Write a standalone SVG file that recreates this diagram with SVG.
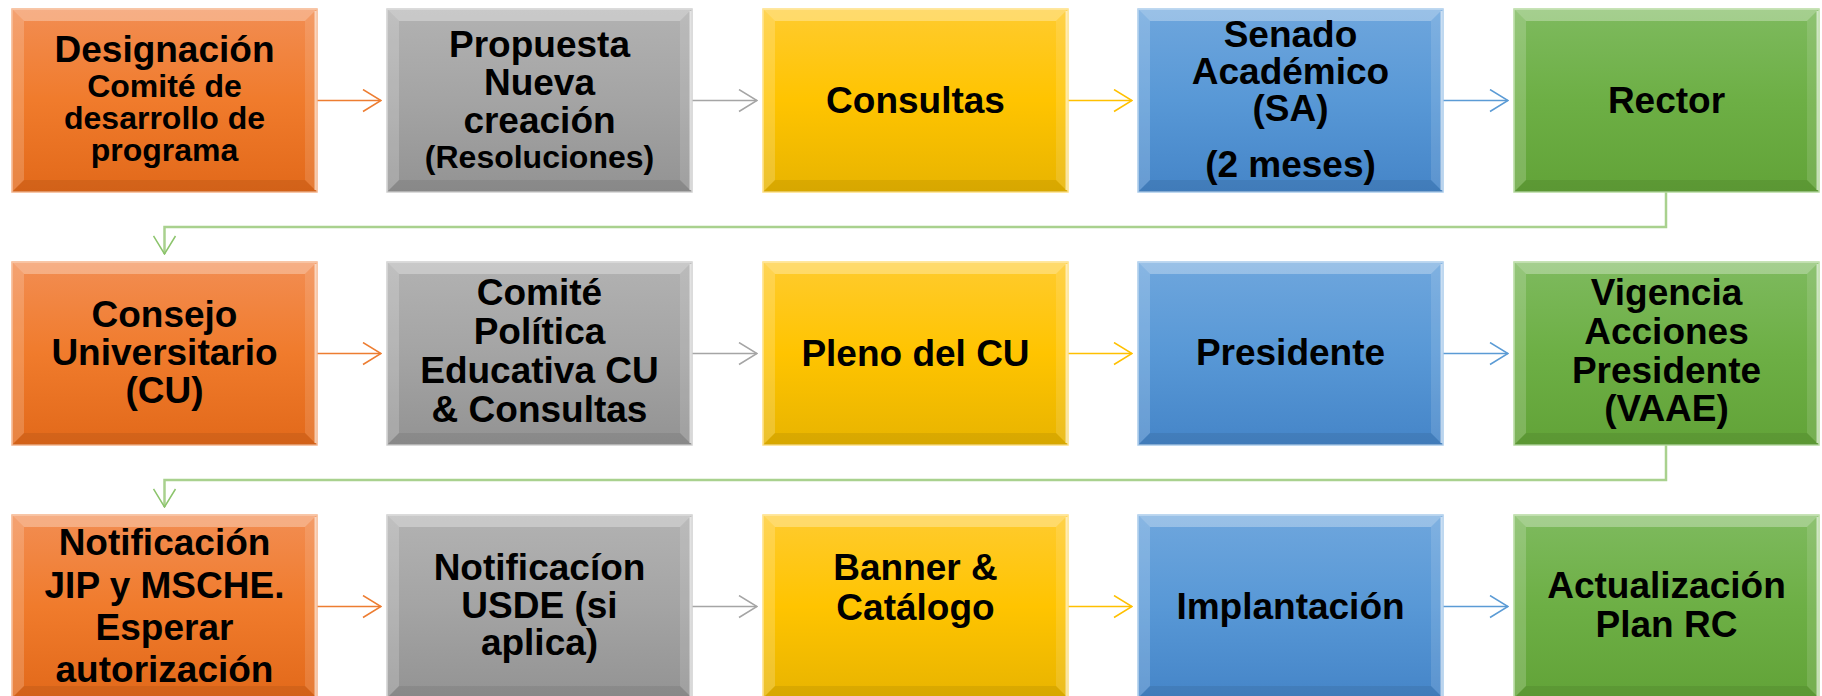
<svg xmlns="http://www.w3.org/2000/svg" xmlns:xlink="http://www.w3.org/1999/xlink" width="1822" height="696" viewBox="0 0 1822 696">
<style>
  text { font-family: "Liberation Sans", Arial, sans-serif; font-weight: bold; fill: #000; text-anchor: middle; }
  .t37 { font-size: 37px; }
  .t32 { font-size: 32px; }
  .orange { fill: url(#gOrange); stroke: #F6B48A; stroke-width: 1.5; }
  .gray { fill: url(#gGray); stroke: #D0D0D0; stroke-width: 1.5; }
  .yellow { fill: url(#gYellow); stroke: #FFE080; stroke-width: 1.5; }
  .blue { fill: url(#gBlue); stroke: #A9CBEC; stroke-width: 1.5; }
  .green { fill: url(#gGreen); stroke: #B5DA9E; stroke-width: 1.5; }
  .conn { fill: none; stroke-width: 1.5; }
  .c-or { stroke: #ED7D31; }
  .c-gr { stroke: #A5A5A5; }
  .c-ye { stroke: #FFC000; }
  .c-bl { stroke: #5B9BD5; }
  .c-gn { stroke: #A9D18E; stroke-width: 2.5; }
</style>
<defs>
  <linearGradient id="gOrange" x1="0" y1="0" x2="0" y2="1"><stop offset="0" stop-color="#F28D52"/><stop offset="0.5" stop-color="#F07B2C"/><stop offset="1" stop-color="#E2691A"/></linearGradient>
  <linearGradient id="gGray" x1="0" y1="0" x2="0" y2="1"><stop offset="0" stop-color="#B2B2B2"/><stop offset="0.5" stop-color="#A4A4A4"/><stop offset="1" stop-color="#939393"/></linearGradient>
  <linearGradient id="gYellow" x1="0" y1="0" x2="0" y2="1"><stop offset="0" stop-color="#FFCB2E"/><stop offset="0.5" stop-color="#FFC400"/><stop offset="1" stop-color="#E8B400"/></linearGradient>
  <linearGradient id="gBlue" x1="0" y1="0" x2="0" y2="1"><stop offset="0" stop-color="#6EA6DD"/><stop offset="0.5" stop-color="#5898D6"/><stop offset="1" stop-color="#4585C8"/></linearGradient>
  <linearGradient id="gGreen" x1="0" y1="0" x2="0" y2="1"><stop offset="0" stop-color="#7EBA5E"/><stop offset="0.5" stop-color="#6DAF45"/><stop offset="1" stop-color="#62A338"/></linearGradient>
  <g id="bevel">
    <polygon points="0,0 305,0 293,12 12,12" fill="#FFFFFF" fill-opacity="0.3"/>
    <polygon points="0,0 12,12 12,171 0,183" fill="#FFFFFF" fill-opacity="0.18"/>
    <polygon points="305,0 305,183 293,171 293,12" fill="#FFFFFF" fill-opacity="0.12"/>
    <polygon points="0,183 12,171 293,171 305,183" fill="#000000" fill-opacity="0.07"/>
    <line x1="303.5" y1="2" x2="303.5" y2="181" stroke="#FFFFFF" stroke-opacity="0.6" stroke-width="2"/>
  </g>
  <marker id="aOr" markerUnits="userSpaceOnUse" viewBox="0 0 20 24" markerWidth="20" markerHeight="24" refX="19" refY="12" orient="auto"><path d="M1,1 L19,12 L1,23" fill="none" stroke="#ED7D31" stroke-width="1.5"/></marker>
  <marker id="aGr" markerUnits="userSpaceOnUse" viewBox="0 0 20 24" markerWidth="20" markerHeight="24" refX="19" refY="12" orient="auto"><path d="M1,1 L19,12 L1,23" fill="none" stroke="#A5A5A5" stroke-width="1.5"/></marker>
  <marker id="aYe" markerUnits="userSpaceOnUse" viewBox="0 0 20 24" markerWidth="20" markerHeight="24" refX="19" refY="12" orient="auto"><path d="M1,1 L19,12 L1,23" fill="none" stroke="#FFC000" stroke-width="1.5"/></marker>
  <marker id="aBl" markerUnits="userSpaceOnUse" viewBox="0 0 20 24" markerWidth="20" markerHeight="24" refX="19" refY="12" orient="auto"><path d="M1,1 L19,12 L1,23" fill="none" stroke="#5B9BD5" stroke-width="1.5"/></marker>
  <marker id="aGn" markerUnits="userSpaceOnUse" viewBox="0 0 20 24" markerWidth="20" markerHeight="24" refX="19" refY="12" orient="auto"><path d="M1,1 L19,12 L1,23" fill="none" stroke="#8CC46C" stroke-width="1.5"/></marker>
</defs>
<rect width="1822" height="696" fill="#FFFFFF"/>

<g id="connectors">
  <line class="conn c-or" x1="317" y1="100.5" x2="381" y2="100.5" marker-end="url(#aOr)"/>
  <line class="conn c-gr" x1="692" y1="100.5" x2="757" y2="100.5" marker-end="url(#aGr)"/>
  <line class="conn c-ye" x1="1068" y1="100.5" x2="1132" y2="100.5" marker-end="url(#aYe)"/>
  <line class="conn c-bl" x1="1443" y1="100.5" x2="1508" y2="100.5" marker-end="url(#aBl)"/>
  <path class="conn c-gn" d="M1666,192 V227 H164.5 V254" marker-end="url(#aGn)"/>

  <line class="conn c-or" x1="317" y1="353.5" x2="381" y2="353.5" marker-end="url(#aOr)"/>
  <line class="conn c-gr" x1="692" y1="353.5" x2="757" y2="353.5" marker-end="url(#aGr)"/>
  <line class="conn c-ye" x1="1068" y1="353.5" x2="1132" y2="353.5" marker-end="url(#aYe)"/>
  <line class="conn c-bl" x1="1443" y1="353.5" x2="1508" y2="353.5" marker-end="url(#aBl)"/>
  <path class="conn c-gn" d="M1666,445 V480 H164.5 V507" marker-end="url(#aGn)"/>

  <line class="conn c-or" x1="317" y1="606.5" x2="381" y2="606.5" marker-end="url(#aOr)"/>
  <line class="conn c-gr" x1="692" y1="606.5" x2="757" y2="606.5" marker-end="url(#aGr)"/>
  <line class="conn c-ye" x1="1068" y1="606.5" x2="1132" y2="606.5" marker-end="url(#aYe)"/>
  <line class="conn c-bl" x1="1443" y1="606.5" x2="1508" y2="606.5" marker-end="url(#aBl)"/>
</g>

<!-- Row 1 -->
<g id="n-designacion" transform="translate(12,9)">
  <rect class="orange" width="305" height="183"/><use href="#bevel"/>
  <text class="t37" x="152.5" y="53">Designación</text>
  <text class="t32" x="152.5" y="88">Comité de</text>
  <text class="t32" x="152.5" y="120">desarrollo de</text>
  <text class="t32" x="152.5" y="152">programa</text>
</g>
<g id="n-propuesta" transform="translate(387,9)">
  <rect class="gray" width="305" height="183"/><use href="#bevel"/>
  <text class="t37" x="152.5" y="48">Propuesta</text>
  <text class="t37" x="152.5" y="86">Nueva</text>
  <text class="t37" x="152.5" y="124">creación</text>
  <text class="t32" x="152.5" y="159">(Resoluciones)</text>
</g>
<g id="n-consultas" transform="translate(763,9)">
  <rect class="yellow" width="305" height="183"/><use href="#bevel"/>
  <text class="t37" x="152.5" y="104">Consultas</text>
</g>
<g id="n-senado" transform="translate(1138,9)">
  <rect class="blue" width="305" height="183"/><use href="#bevel"/>
  <text class="t37" x="152.5" y="38">Senado</text>
  <text class="t37" x="152.5" y="75">Académico</text>
  <text class="t37" x="152.5" y="112">(SA)</text>
  <text class="t37" x="152.5" y="168">(2 meses)</text>
</g>
<g id="n-rector" transform="translate(1514,9)">
  <rect class="green" width="305" height="183"/><use href="#bevel"/>
  <text class="t37" x="152.5" y="104">Rector</text>
</g>

<!-- Row 2 -->
<g id="n-consejo" transform="translate(12,262)">
  <rect class="orange" width="305" height="183"/><use href="#bevel"/>
  <text class="t37" x="152.5" y="65">Consejo</text>
  <text class="t37" x="152.5" y="103">Universitario</text>
  <text class="t37" x="152.5" y="141">(CU)</text>
</g>
<g id="n-comite" transform="translate(387,262)">
  <rect class="gray" width="305" height="183"/><use href="#bevel"/>
  <text class="t37" x="152.5" y="43">Comité</text>
  <text class="t37" x="152.5" y="82">Política</text>
  <text class="t37" x="152.5" y="121">Educativa CU</text>
  <text class="t37" x="152.5" y="160">&amp; Consultas</text>
</g>
<g id="n-pleno" transform="translate(763,262)">
  <rect class="yellow" width="305" height="183"/><use href="#bevel"/>
  <text class="t37" x="152.5" y="104">Pleno del CU</text>
</g>
<g id="n-presidente" transform="translate(1138,262)">
  <rect class="blue" width="305" height="183"/><use href="#bevel"/>
  <text class="t37" x="152.5" y="103">Presidente</text>
</g>
<g id="n-vigencia" transform="translate(1514,262)">
  <rect class="green" width="305" height="183"/><use href="#bevel"/>
  <text class="t37" x="152.5" y="43">Vigencia</text>
  <text class="t37" x="152.5" y="82">Acciones</text>
  <text class="t37" x="152.5" y="121">Presidente</text>
  <text class="t37" x="152.5" y="159">(VAAE)</text>
</g>

<!-- Row 3 -->
<g id="n-notificacion-jip" transform="translate(12,515)">
  <rect class="orange" width="305" height="183"/><use href="#bevel"/>
  <text class="t37" x="152.5" y="40">Notificación</text>
  <text class="t37" x="152.5" y="83">JIP y MSCHE.</text>
  <text class="t37" x="152.5" y="125">Esperar</text>
  <text class="t37" x="152.5" y="167">autorización</text>
</g>
<g id="n-notificacion-usde" transform="translate(387,515)">
  <rect class="gray" width="305" height="183"/><use href="#bevel"/>
  <text class="t37" x="152.5" y="65">Notificacíon</text>
  <text class="t37" x="152.5" y="103">USDE (si</text>
  <text class="t37" x="152.5" y="140">aplica)</text>
</g>
<g id="n-banner" transform="translate(763,515)">
  <rect class="yellow" width="305" height="183"/><use href="#bevel"/>
  <text class="t37" x="152.5" y="65">Banner &amp;</text>
  <text class="t37" x="152.5" y="105">Catálogo</text>
</g>
<g id="n-implantacion" transform="translate(1138,515)">
  <rect class="blue" width="305" height="183"/><use href="#bevel"/>
  <text class="t37" x="152.5" y="104">Implantación</text>
</g>
<g id="n-actualizacion" transform="translate(1514,515)">
  <rect class="green" width="305" height="183"/><use href="#bevel"/>
  <text class="t37" x="152.5" y="83">Actualización</text>
  <text class="t37" x="152.5" y="122">Plan RC</text>
</g>
</svg>
